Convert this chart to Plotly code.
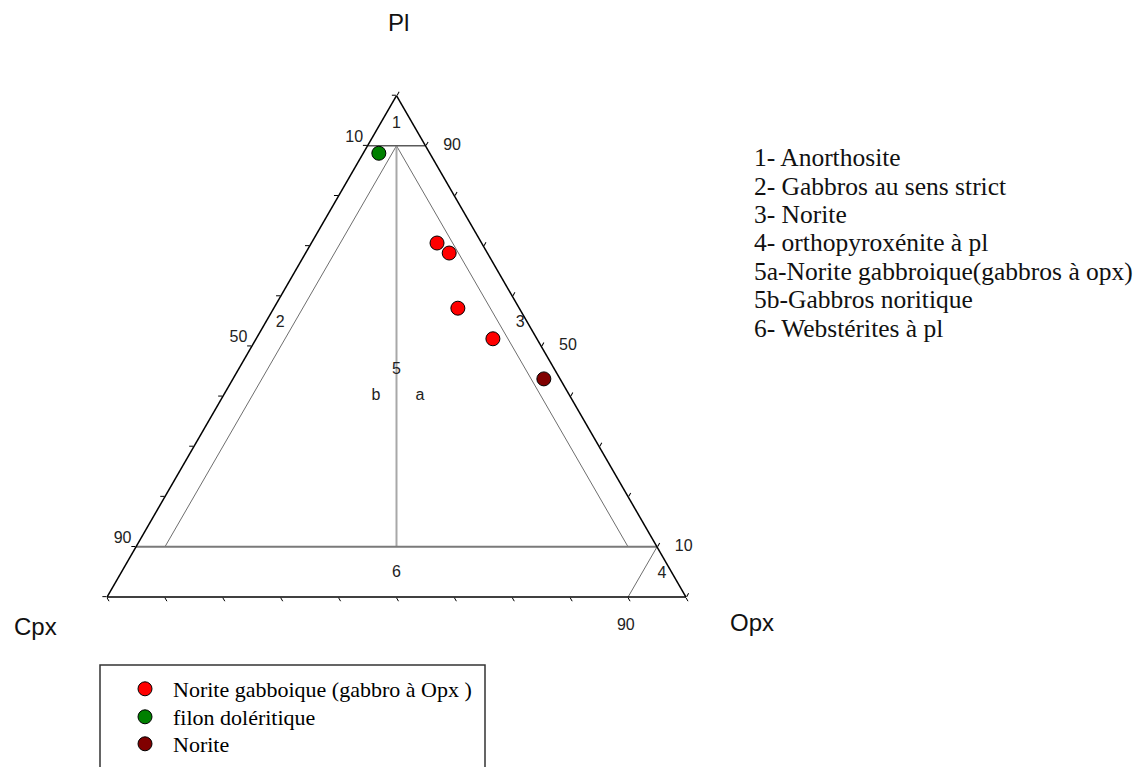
import plotly.graph_objects as go

# Sample compositions (modal %): plagioclase, clinopyroxene, orthopyroxene
norite_gabbroique_pl = [70.6, 68.6, 57.6, 51.5]
norite_gabbroique_cpx = [7.7, 6.6, 10.6, 7.6]
norite_gabbroique_opx = [21.7, 24.8, 31.8, 40.9]

filon_pl = [88.5]
filon_cpx = [8.8]
filon_opx = [2.7]

norite_pl = [43.5]
norite_cpx = [2.8]
norite_opx = [53.7]

# Classification boundaries (Pl, Cpx, Opx) endpoints
pl90_line = [(90, 10, 0), (90, 0, 10)]
pl10_line = [(10, 90, 0), (10, 0, 90)]
opx5_line = [(90, 5, 5), (10, 85, 5)]
cpx5_line = [(90, 5, 5), (10, 5, 85)]
equal_line = [(90, 5, 5), (10, 45, 45)]
opx90_line = [(10, 0, 90), (0, 10, 90)]

# Field numbers
field_labels = ["1", "2", "3", "4", "5", "b", "a", "6"]
field_pl = [94.3, 54.6, 54.6, 4.6, 45.3, 40.1, 40.1, 4.8]
field_cpx = [2.85, 42.8, 1.35, 1.85, 27.35, 33.5, 25.9, 47.6]
field_opx = [2.85, 2.6, 44.05, 93.55, 27.35, 26.4, 34.0, 47.6]

# Edge graduations
left_tick_labels = ["10", "50", "90"]
left_tick_pl = [90, 50, 10]
right_tick_labels = ["90", "50", "10"]
right_tick_pl = [90, 50, 10]
bottom_tick_labels = ["90"]
bottom_tick_opx = [90]

fields_legend = [
    "1- Anorthosite",
    "2- Gabbros au sens strict",
    "3- Norite",
    "4- orthopyroxénite à pl",
    "5a-Norite gabbroique(gabbros à opx)",
    "5b-Gabbros noritique",
    "6- Webstérites à pl",
]

SANS = "Liberation Sans, Arial, sans-serif"
SERIF = "Liberation Serif, Times New Roman, serif"
GAP = "&nbsp;"

fig = go.Figure()


def add_line(pts, color, width):
    fig.add_trace(go.Scatterternary(
        a=[p[0] for p in pts], b=[p[1] for p in pts], c=[p[2] for p in pts],
        mode="lines", line=dict(color=color, width=width),
        showlegend=False, hoverinfo="skip", cliponaxis=False,
    ))


add_line(opx5_line, "#6e6e6e", 1)
add_line(cpx5_line, "#6e6e6e", 1)
add_line(opx90_line, "#6e6e6e", 1)
add_line(equal_line, "#a8a8a8", 2)
add_line(pl90_line, "#5a5a5a", 1.5)
add_line(pl10_line, "#7a7a7a", 2)

tick_font = dict(family=SANS, size=16, color="#222")

# Field numbers
fig.add_trace(go.Scatterternary(
    a=field_pl, b=field_cpx, c=field_opx, mode="text", text=field_labels,
    textfont=tick_font,
    showlegend=False, hoverinfo="skip", cliponaxis=False,
))

# Graduation labels
fig.add_trace(go.Scatterternary(
    a=left_tick_pl, b=[100 - v for v in left_tick_pl], c=[0] * 3,
    mode="text", text=[t + GAP for t in left_tick_labels],
    textposition="top left", textfont=tick_font,
    showlegend=False, hoverinfo="skip", cliponaxis=False,
))
fig.add_trace(go.Scatterternary(
    a=right_tick_pl, b=[0] * 3, c=[100 - v for v in right_tick_pl],
    mode="text", text=[GAP * 4 + t for t in right_tick_labels],
    textposition="middle right", textfont=tick_font,
    showlegend=False, hoverinfo="skip", cliponaxis=False,
))
fig.add_trace(go.Scatterternary(
    a=[0], b=[100 - v for v in bottom_tick_opx], c=bottom_tick_opx,
    mode="text", text=["<br>" + t + GAP for t in bottom_tick_labels],
    textposition="bottom center", textfont=tick_font,
    showlegend=False, hoverinfo="skip", cliponaxis=False,
))

marker_line = dict(color="black", width=1)
fig.add_trace(go.Scatterternary(
    a=norite_gabbroique_pl, b=norite_gabbroique_cpx, c=norite_gabbroique_opx,
    mode="markers", name="Norite gabboique (gabbro à Opx )",
    marker=dict(size=14, color="#ff0000", line=marker_line),
    legend="legend", cliponaxis=False,
))
fig.add_trace(go.Scatterternary(
    a=filon_pl, b=filon_cpx, c=filon_opx,
    mode="markers", name="filon doléritique",
    marker=dict(size=14, color="#008000", line=marker_line),
    legend="legend2", cliponaxis=False,
))
fig.add_trace(go.Scatterternary(
    a=norite_pl, b=norite_cpx, c=norite_opx,
    mode="markers", name="Norite",
    marker=dict(size=14, color="#800000", line=marker_line),
    legend="legend3", cliponaxis=False,
))

W, H = 1142, 767

axis_style = dict(
    min=0, showgrid=False, showticklabels=False, ticks="outside",
    ticklen=4, tickwidth=1, tickcolor="black", dtick=10, tick0=0,
    linecolor="black", linewidth=1.5, title=dict(text=""),
)

legend_style = dict(
    font=dict(family=SERIF, size=22, color="black"),
    bgcolor="rgba(0,0,0,0)", borderwidth=0, itemwidth=46,
    xanchor="left", yanchor="middle",
)

annotations = [
    dict(text="Pl", x=398 / W, y=1 - 22 / H),
    dict(text="Cpx", x=35 / W, y=1 - 626 / H),
    dict(text="Opx", x=752 / W, y=1 - 622 / H),
]
for ann in annotations:
    ann.update(xref="paper", yref="paper", showarrow=False,
               xanchor="center", yanchor="middle",
               font=dict(family=SANS, size=24, color="#111"))

list_rows_y = [157, 186, 214, 243, 271, 300, 328]
for label, yy in zip(fields_legend, list_rows_y):
    annotations.append(dict(
        text=label, xref="paper", yref="paper", x=752 / W, y=1 - yy / H,
        xanchor="left", yanchor="middle", showarrow=False,
        font=dict(family=SERIF, size=25.5, color="#111"),
    ))

fig.update_layout(
    width=W, height=H,
    margin=dict(l=0, r=0, t=0, b=0),
    paper_bgcolor="white",
    ternary=dict(
        sum=100,
        bgcolor="white",
        domain=dict(x=[(396.5 - 300) / W, (396.5 + 300) / W],
                    y=[(H - 597) / H, (H - 95.6) / H]),
        aaxis=axis_style, baxis=axis_style, caxis=axis_style,
    ),
    legend=dict(x=(137 - 20) / W, y=1 - 689 / H, **legend_style),
    legend2=dict(x=(137 - 20) / W, y=1 - 717 / H, **legend_style),
    legend3=dict(x=(137 - 20) / W, y=1 - 744 / H, **legend_style),
    annotations=annotations,
    shapes=[dict(type="rect", xref="paper", yref="paper",
                 x0=100 / W, x1=485 / W, y0=-0.02, y1=1 - 665 / H,
                 line=dict(color="#333", width=1.5))],
)

fig.write_html("out.html")
